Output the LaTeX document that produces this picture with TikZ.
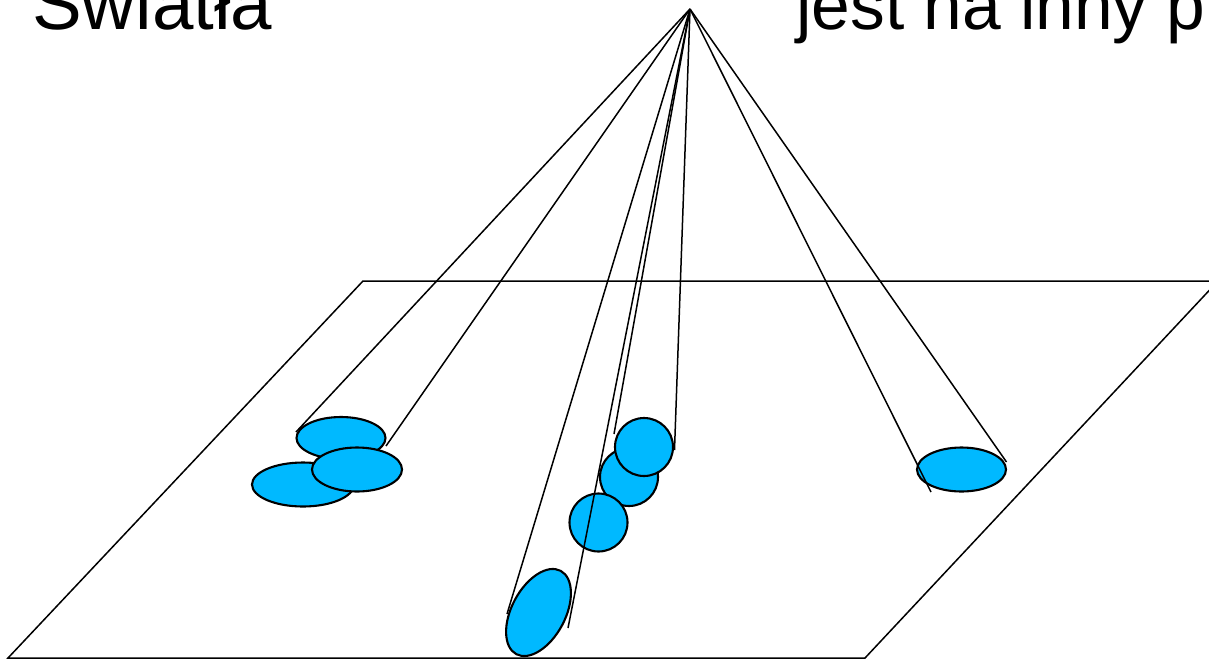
\documentclass[tikz,border=0pt]{standalone}
\usepackage{fontspec}
\setmainfont{Liberation Sans}
\usetikzlibrary{shapes.geometric}
\definecolor{spotblue}{HTML}{00B9FF}
\begin{document}
\begin{tikzpicture}[x=1pt,y=-1pt,
  spot/.style={ellipse, draw=black, line width=2.1pt, fill=spotblue,
    inner sep=0pt, outer sep=0pt},
  ray/.style={line width=1.5pt},
  plane/.style={line width=1.5pt},
  title/.style={anchor=base west, inner sep=0pt}]
\useasboundingbox (0,0) rectangle (1209,659);

% headings running off the page
\node[title, font=\fontsize{74.5}{88}\selectfont] (t1) at (32,29) {Światła};
\node[title, font=\fontsize{69.5}{84}\selectfont] (t2) at (796,29) {jest na inny p};

% the plane
\draw[plane] (363,281) -- (1218,281) -- (865,658) -- (8,658) -- cycle;

% spots of light on the plane
\node[spot, minimum width=89pt, minimum height=42pt] (A) at (341,438) {};
\node[spot, minimum width=102pt, minimum height=44pt] (B) at (303,484.5) {};
\node[spot, minimum width=90pt, minimum height=44pt] (C) at (357,469.5) {};
\node[spot, minimum width=53.6pt, minimum height=94.4pt, rotate=-28] (D) at (538.5,612.5) {};
\node[spot, minimum width=58pt, minimum height=58pt] (F) at (629,477) {};
\node[spot, minimum width=58pt, minimum height=58pt] (E) at (598.5,522.5) {};
\node[spot, minimum width=58pt, minimum height=58pt] (G) at (644,447) {};
\node[spot, minimum width=89pt, minimum height=44pt] (H) at (961.5,469.5) {};

% source point and ray ends
\coordinate (O) at (690,9);
\coordinate (r1) at (296,432);
\coordinate (r2) at (386,446);
\coordinate (r3) at (507,614);
\coordinate (r4) at (568,628);
\coordinate (r5) at (614,434);
\coordinate (r6) at (674.5,450);
\coordinate (r7) at (931,492);
\coordinate (r8) at (1006.5,462);

% rays from the source
\foreach \e in {r1,r2,r3,r4,r5,r6,r7,r8}
  \draw[ray] (O) -- (\e);
\end{tikzpicture}
\end{document}
